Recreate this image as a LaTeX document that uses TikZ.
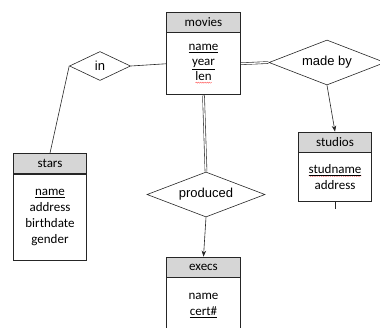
\documentclass[tikz,border=0pt]{standalone}
\usepackage{fontspec}
\setmainfont{Carlito}
\newfontfamily\relfont{Liberation Sans}
\usetikzlibrary{shapes.geometric,arrows.meta,decorations.pathmorphing}

% word with a red wavy spell-check mark beneath it
\newsavebox\spellbox
\newcommand\spellmark[1]{\sbox\spellbox{#1}%
  \rlap{\raisebox{-3pt}{\tikz[x=1pt,y=1pt]{%
    \draw[red!60, line width=0.45pt, fill=none, decorate,
          decoration={snake,amplitude=0.55pt,segment length=2.2pt}]
      (0,0) -- (\the\wd\spellbox,0);}}}%
  \usebox\spellbox}

\begin{document}
\begin{tikzpicture}[x=1pt,y=-1pt,
  entityhead/.style={draw=black!85, line width=0.8pt, fill=black!16,
    minimum width=73.5pt, minimum height=20pt, inner sep=0pt,
    font=\fontsize{13}{15}\selectfont},
  entitybody/.style={draw=black!85, line width=0.7pt, fill=white,
    minimum width=73.5pt, inner sep=0pt, align=center, anchor=north,
    font=\fontsize{13}{16}\selectfont},
  rel/.style={diamond, draw=black!85, line width=0.6pt, inner sep=0pt,
    aspect=2.6, font=\relfont\fontsize{13}{15}\selectfont},
  conn/.style={draw=black!85, line width=0.6pt},
  dbl/.style={draw=black!80, line width=0.6pt, double=white,
    double distance=1.3pt, shorten <=0.4pt, shorten >=0.3pt},
  tip/.style={-{Stealth[length=6pt,width=4.5pt]}}
]
\useasboundingbox (0,0) rectangle (380,327);
\clip (0,0) rectangle (380,327);

% entity sets
\node[entityhead] (moviesh) at (203.5,22) {movies};
\node[entitybody, minimum height=62pt] (moviesb) at (moviesh.south)
  {\underline{name}\\[-1pt] \underline{year}\\[-1pt] \spellmark{len}};

\node[entityhead] (starsh) at (50,163.5) {stars};
\node[entitybody, minimum height=86pt] (starsb) at (starsh.south)
  {\underline{name}\\ address\\ birthdate\\ gender};

\node[entityhead] (studiosh) at (335,142) {studios};
\node[entitybody, minimum height=49pt] (studiosb) at (studiosh.south)
  {\spellmark{\underline{studname}}\\ address};

\node[entityhead] (execsh) at (203.5,267) {execs};
\node[entitybody, minimum height=56pt] (execsb) at (execsh.south)
  {name\\ \underline{cert\#}};

% relationships
\node[rel, aspect=2.1, minimum width=61pt, minimum height=29pt] (in) at (100,66) {in};
\node[rel, minimum width=116pt, minimum height=45pt] (madeby) at (327,62.5) {made by};
\node[rel, minimum width=118pt, minimum height=45pt] (produced) at (206,194.5) {produced};

% connectors
\draw[conn] (in.east) -- (moviesb.west);
\draw[conn] (in.west) -- (starsh.north);
\draw[dbl] (moviesb.east) -- (madeby.west);
\draw[dbl] (moviesb.south) -- (produced.north);
\draw[conn, tip] (madeby.south) -- (studiosh.north);
\draw[conn, tip] (produced.south) -- (execsh.north);
\coordinate (studtail) at (335,209);
\draw[conn] (studiosb.south) -- (studtail);
\end{tikzpicture}
\end{document}
